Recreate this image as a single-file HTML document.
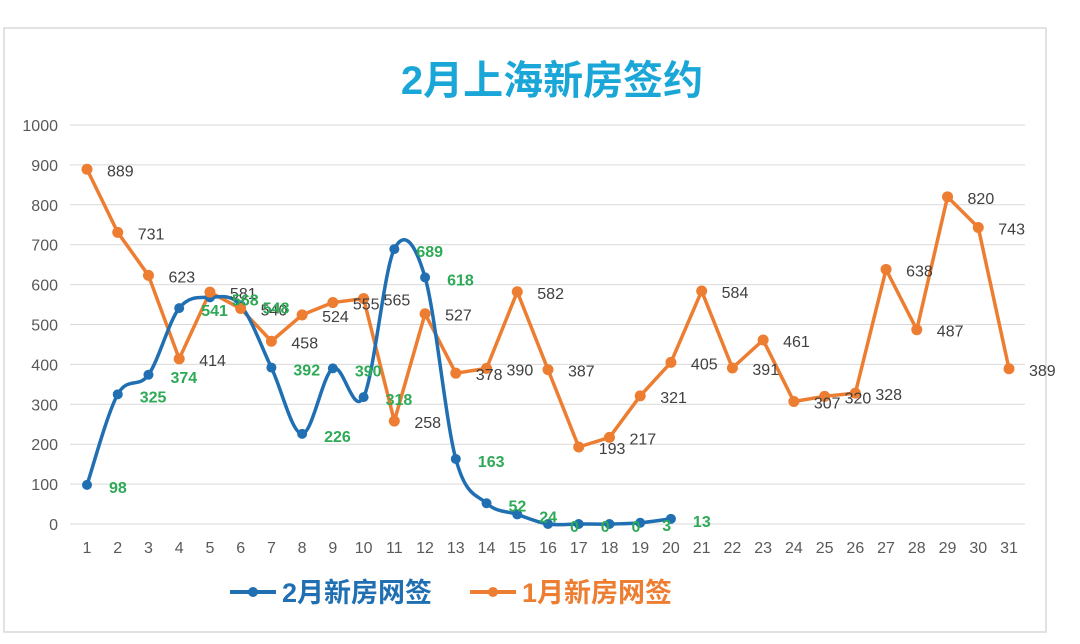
<!DOCTYPE html>
<html><head><meta charset="utf-8">
<style>
body{margin:0;background:#fff;width:1080px;height:639px;overflow:hidden;font-family:"Liberation Sans","Noto Sans CJK SC",sans-serif;}
</style></head>
<body>
<svg id="chart" width="1080" height="639" xmlns="http://www.w3.org/2000/svg">
<rect x="4" y="28" width="1042" height="604" fill="#fff" stroke="#d9d9d9" stroke-width="1.5"/>
<text x="552" y="94" text-anchor="middle" font-size="40" font-weight="bold" fill="#1aa7d8" font-family="Liberation Sans,Noto Sans CJK SC,sans-serif">2月上海新房签约</text>
<g id="grid"></g><g id="axes"></g><g id="series"></g>
<g>
<g>
<line x1="230" y1="592" x2="276" y2="592" stroke="#1f6fb2" stroke-width="4"/><circle cx="253" cy="592" r="5" fill="#1f6fb2"/>
<text x="282" y="602" font-size="27" font-weight="bold" fill="#1f6fb2">2月新房网签</text></g>
<g>
<line x1="470" y1="592" x2="516" y2="592" stroke="#ed7d31" stroke-width="4"/><circle cx="493" cy="592" r="5" fill="#ed7d31"/>
<text x="522" y="602" font-size="27" font-weight="bold" fill="#ed7d31">1月新房网签</text></g>
</g>
</svg>
<script>
const days=[1,2,3,4,5,6,7,8,9,10,11,12,13,14,15,16,17,18,19,20,21,22,23,24,25,26,27,28,29,30,31];
const janValues=[889,731,623,414,581,540,458,524,555,565,258,527,378,390,582,387,193,217,321,405,584,391,461,307,320,328,638,487,820,743,389];
const febValues=[98,325,374,541,568,548,392,226,390,318,689,618,163,52,24,0,0,0,3,13];
const yTicks=[0,100,200,300,400,500,600,700,800,900,1000];
const NS="http://www.w3.org/2000/svg";
const x=d=>87+(d-1)*(1009-87)/30;
const y=v=>524-v*0.399;
function mk(t,a,p){const e=document.createElementNS(NS,t);for(const k in a)e.setAttribute(k,a[k]);p.appendChild(e);return e;}
const grid=document.getElementById('grid'),axes=document.getElementById('axes'),ser=document.getElementById('series');
yTicks.forEach(v=>{
 const l=mk('line',{x1:70,x2:1025,y1:y(v),y2:y(v),stroke:'#d9d9d9','stroke-width':1},grid);
 
 
 const t=mk('text',{x:58,y:y(v)+6,'text-anchor':'end','font-size':16,fill:'#595959'},axes);
 t.textContent=v;
 
 
});
days.forEach(d=>{
 const t=mk('text',{x:x(d),y:553,'text-anchor':'middle','font-size':16,fill:'#595959'},axes);
 t.textContent=d;
 
 
});
let pj=janValues.map((v,i)=>x(days[i])+','+y(v)).join(' ');
const jl=mk('polyline',{points:pj,fill:'none',stroke:'#ed7d31','stroke-width':3.5,'stroke-linejoin':'round'},ser);


const fp=febValues.map((v,i)=>[x(days[i]),y(v)]);
let dpath='M'+fp[0][0]+','+fp[0][1];
for(let i=0;i<fp.length-1;i++){
 const p0=fp[i-1]||fp[i],p1=fp[i],p2=fp[i+1],p3=fp[i+2]||p2;
 const c1=[p1[0]+(p2[0]-p0[0])/6,p1[1]+(p2[1]-p0[1])/6],c2=[p2[0]-(p3[0]-p1[0])/6,p2[1]-(p3[1]-p1[1])/6];
 dpath+=` C${c1[0]},${c1[1]} ${c2[0]},${c2[1]} ${p2[0]},${p2[1]}`;
}
const fl=mk('path',{d:dpath,fill:'none',stroke:'#1f6fb2','stroke-width':3.5},ser);


febValues.forEach((v,i)=>{
 const c=mk('circle',{cx:x(days[i]),cy:y(v),r:5,fill:'#1f6fb2'},ser);
 
 
});
janValues.forEach((v,i)=>{
 const c=mk('circle',{cx:x(days[i]),cy:y(v),r:5.5,fill:'#ed7d31'},ser);
 
 
});
janValues.forEach((v,i)=>{
 const t=mk('text',{x:x(days[i])+20,y:y(v)+7,'font-size':16,fill:'#404040'},ser);
 t.textContent=v;
 
 
});
febValues.forEach((v,i)=>{
 const t=mk('text',{x:x(days[i])+22,y:y(v)+8,'font-size':16,'font-weight':'bold',fill:'#2eaa57'},ser);
 t.textContent=v;
 
 
});
</script>
</body></html>
